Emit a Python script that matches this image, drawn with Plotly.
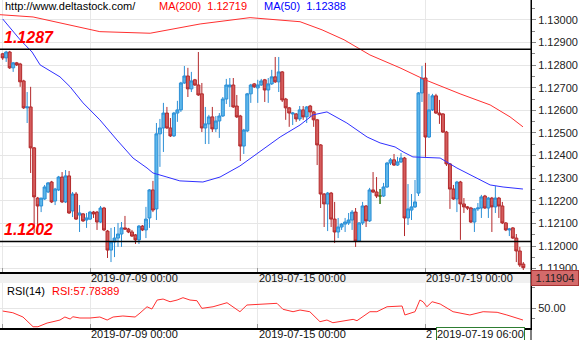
import plotly.graph_objects as go

# ---------------- data ----------------
opens = [1.12850, 1.12832, 1.12858, 1.12788, 1.12810, 1.12805, 1.12730, 1.12611, 1.12615, 1.12434,
         1.12212, 1.12177, 1.12208, 1.12239, 1.12283, 1.12199, 1.12248, 1.12305, 1.12195, 1.12310,
         1.12155, 1.12230, 1.12137, 1.12142, 1.12115, 1.12119, 1.12150, 1.12150, 1.12106, 1.12168,
         1.12066, 1.11982, 1.12018, 1.12035, 1.12053, 1.12080, 1.12075, 1.12062, 1.12049, 1.12027,
         1.12088, 1.12071, 1.12124, 1.12248, 1.12164, 1.12496, 1.12522, 1.12588, 1.12522, 1.12487,
         1.12588, 1.12602, 1.12721, 1.12752, 1.12695, 1.12735, 1.12712, 1.12673, 1.12522, 1.12540,
         1.12571, 1.12518, 1.12553, 1.12575, 1.12650, 1.12704, 1.12712, 1.12619, 1.12575, 1.12442,
         1.12509, 1.12673, 1.12717, 1.12699, 1.12712, 1.12735, 1.12690, 1.12717, 1.12748, 1.12726,
         1.12770, 1.12650, 1.12611, 1.12584, 1.12584, 1.12562, 1.12602, 1.12571, 1.12619, 1.12593,
         1.12558, 1.12447, 1.12230, 1.12186, 1.12234, 1.12119, 1.12062, 1.12084, 1.12097, 1.12102,
         1.12115, 1.12150, 1.12022, 1.12102, 1.12177, 1.12111, 1.12248, 1.12239, 1.12221, 1.12221,
         1.12261, 1.12367, 1.12381, 1.12358, 1.12372, 1.12389, 1.12124, 1.12159, 1.12173, 1.12234,
         1.12677, 1.12743, 1.12482, 1.12602, 1.12664, 1.12588, 1.12584, 1.12504, 1.12363, 1.12252,
         1.12208, 1.12283, 1.12186, 1.12173, 1.12168, 1.12106, 1.12164, 1.12168, 1.12221, 1.12168,
         1.12212, 1.12173, 1.12212, 1.12177, 1.12102, 1.12071, 1.12080, 1.12035, 1.11978, 1.11920]
highs = [1.12854, 1.12863, 1.12863, 1.12814, 1.12814, 1.12810, 1.12735, 1.12681, 1.12704, 1.12438,
         1.12217, 1.12212, 1.12270, 1.12283, 1.12288, 1.12257, 1.12310, 1.12327, 1.12336, 1.12332,
         1.12239, 1.12239, 1.12181, 1.12146, 1.12146, 1.12155, 1.12155, 1.12155, 1.12177, 1.12173,
         1.12071, 1.12080, 1.12084, 1.12102, 1.12106, 1.12133, 1.12080, 1.12071, 1.12053, 1.12093,
         1.12093, 1.12173, 1.12252, 1.12288, 1.12544, 1.12562, 1.12633, 1.12615, 1.12566, 1.12593,
         1.12642, 1.12726, 1.12796, 1.12788, 1.12770, 1.12739, 1.12858, 1.12721, 1.12615, 1.12580,
         1.12615, 1.12575, 1.12588, 1.12659, 1.12739, 1.12743, 1.12743, 1.12668, 1.12580, 1.12518,
         1.12677, 1.12717, 1.12721, 1.12735, 1.12739, 1.12739, 1.12743, 1.12779, 1.12836, 1.12836,
         1.12774, 1.12655, 1.12615, 1.12593, 1.12588, 1.12619, 1.12619, 1.12619, 1.12624, 1.12597,
         1.12562, 1.12451, 1.12234, 1.12239, 1.12239, 1.12195, 1.12124, 1.12102, 1.12124, 1.12146,
         1.12159, 1.12168, 1.12106, 1.12195, 1.12181, 1.12257, 1.12327, 1.12305, 1.12252, 1.12279,
         1.12372, 1.12389, 1.12407, 1.12394, 1.12411, 1.12394, 1.12274, 1.12230, 1.12292, 1.12681,
         1.12796, 1.12810, 1.12673, 1.12673, 1.12673, 1.12646, 1.12588, 1.12509, 1.12367, 1.12270,
         1.12288, 1.12288, 1.12212, 1.12177, 1.12173, 1.12168, 1.12190, 1.12226, 1.12226, 1.12217,
         1.12217, 1.12265, 1.12217, 1.12195, 1.12106, 1.12080, 1.12084, 1.12053, 1.11996, 1.11929]
lows = [1.12823, 1.12814, 1.12783, 1.12770, 1.12796, 1.12704, 1.12606, 1.12544, 1.12323, 1.12057,
        1.12062, 1.12150, 1.12204, 1.12234, 1.12190, 1.12181, 1.12243, 1.12190, 1.12190, 1.12142,
        1.12128, 1.12115, 1.12062, 1.12106, 1.12080, 1.12115, 1.12124, 1.12071, 1.12102, 1.12066,
        1.11947, 1.11929, 1.11951, 1.11996, 1.11996, 1.12071, 1.12057, 1.12040, 1.12009, 1.12009,
        1.12066, 1.12035, 1.12080, 1.12150, 1.12115, 1.12350, 1.12416, 1.12518, 1.12482, 1.12482,
        1.12549, 1.12593, 1.12717, 1.12659, 1.12681, 1.12708, 1.12664, 1.12504, 1.12451, 1.12451,
        1.12504, 1.12504, 1.12478, 1.12571, 1.12628, 1.12615, 1.12611, 1.12566, 1.12376, 1.12407,
        1.12504, 1.12633, 1.12699, 1.12633, 1.12708, 1.12637, 1.12633, 1.12712, 1.12721, 1.12681,
        1.12637, 1.12558, 1.12527, 1.12535, 1.12549, 1.12553, 1.12558, 1.12544, 1.12571, 1.12527,
        1.12358, 1.12168, 1.12084, 1.12066, 1.12084, 1.12013, 1.12035, 1.12071, 1.12062, 1.12093,
        1.12071, 1.11996, 1.12018, 1.12093, 1.12084, 1.12106, 1.12234, 1.12212, 1.12186, 1.12217,
        1.12257, 1.12358, 1.12354, 1.12354, 1.12367, 1.12044, 1.12093, 1.12115, 1.12168, 1.12221,
        1.12637, 1.12394, 1.12478, 1.12597, 1.12584, 1.12540, 1.12500, 1.12354, 1.12164, 1.12204,
        1.12150, 1.12027, 1.12146, 1.12159, 1.12102, 1.12062, 1.12155, 1.12124, 1.12164, 1.12124,
        1.12062, 1.12146, 1.12124, 1.12097, 1.12066, 1.12044, 1.12031, 1.11929, 1.11907, 1.11894]
closes = [1.12832, 1.12858, 1.12788, 1.12810, 1.12801, 1.12726, 1.12611, 1.12615, 1.12434, 1.12217,
          1.12177, 1.12212, 1.12261, 1.12279, 1.12195, 1.12252, 1.12305, 1.12195, 1.12310, 1.12146,
          1.12230, 1.12119, 1.12146, 1.12111, 1.12124, 1.12150, 1.12142, 1.12106, 1.12168, 1.12071,
          1.11982, 1.12018, 1.12035, 1.12053, 1.12080, 1.12075, 1.12062, 1.12044, 1.12027, 1.12088,
          1.12071, 1.12119, 1.12248, 1.12159, 1.12496, 1.12522, 1.12588, 1.12522, 1.12487, 1.12588,
          1.12602, 1.12721, 1.12752, 1.12695, 1.12730, 1.12712, 1.12668, 1.12522, 1.12540, 1.12571,
          1.12518, 1.12553, 1.12575, 1.12650, 1.12712, 1.12712, 1.12615, 1.12571, 1.12442, 1.12513,
          1.12673, 1.12712, 1.12704, 1.12712, 1.12730, 1.12690, 1.12717, 1.12748, 1.12726, 1.12770,
          1.12646, 1.12611, 1.12588, 1.12588, 1.12562, 1.12602, 1.12571, 1.12615, 1.12593, 1.12558,
          1.12447, 1.12230, 1.12186, 1.12234, 1.12119, 1.12062, 1.12084, 1.12097, 1.12106, 1.12115,
          1.12150, 1.12022, 1.12102, 1.12177, 1.12111, 1.12248, 1.12239, 1.12221, 1.12221, 1.12261,
          1.12367, 1.12381, 1.12358, 1.12372, 1.12389, 1.12124, 1.12164, 1.12173, 1.12195, 1.12677,
          1.12743, 1.12482, 1.12602, 1.12664, 1.12588, 1.12580, 1.12504, 1.12363, 1.12252, 1.12208,
          1.12283, 1.12186, 1.12173, 1.12168, 1.12106, 1.12164, 1.12168, 1.12217, 1.12168, 1.12212,
          1.12173, 1.12212, 1.12177, 1.12102, 1.12071, 1.12075, 1.12035, 1.11978, 1.11916, 1.11904]
candle_index = list(range(len(opens)))

ma50_index = [0, 5, 8.4, 10.7, 16.4, 19.3, 23.0, 27.8, 32.7, 37.3, 41.3, 43.0, 47.0, 50.7, 57.3,
              62.2, 67.9, 74.2, 79.4, 85.1, 88.8, 92.8, 98.5, 104.3, 108.0, 112.3, 114.6, 117.4,
              125.2, 130.0, 139.5, 143.2, 148.9]
ma50_value = [1.13004, 1.12912, 1.12858, 1.12801, 1.12748, 1.12704, 1.12633, 1.12558, 1.12469,
              1.12389, 1.12345, 1.12323, 1.12305, 1.12288, 1.12283, 1.12305, 1.12354, 1.12425,
              1.12482, 1.12535, 1.12580, 1.12593, 1.12544, 1.12482, 1.12456, 1.12438, 1.12416,
              1.12394, 1.12389, 1.12345, 1.12270, 1.12261, 1.12252]

ma200_index = [-0.77, 8.7, 27.8, 42.2, 56.5, 70.8, 85.1, 91.4, 97.7, 105.1, 113.7, 120.9, 130.9,
               139.5, 145.2, 148.9]
ma200_value = [1.13023, 1.13013, 1.12948, 1.12941, 1.12982, 1.13010, 1.12992, 1.12956, 1.12912,
               1.12845, 1.12788, 1.12735, 1.12673, 1.12624, 1.12571, 1.12527]

rsi_index = [0, 2.9, 5.8, 8.7, 10.1, 12.7, 14.4, 16.4, 17.8, 19.3, 20.1, 22.1, 25.0, 27.8, 29.9,
             31.6, 34.4, 37.9, 39.3, 41.3, 42.7, 44.2, 45.9, 47.9, 49.9, 51.6, 53.6, 55.6, 57.0,
             60.2, 64.2, 67.9, 69.9, 74.5, 78.5, 80.2, 83.1, 85.1, 87.9, 90.8, 92.8, 94.5, 97.4,
             100.3, 101.4, 105.1, 107.1, 110.0, 114.3, 115.1, 118.0, 119.4, 120.3, 121.4, 122.9,
             125.2, 128.9, 133.7, 137.5, 141.5, 144.3, 148.9]
rsi_value = [46.4, 44.4, 39.3, 27.7, 27.7, 32.1, 33.7, 35.7, 39.3, 36.9, 39.6, 38.1, 38.1, 39.3,
             35.7, 39.3, 40.5, 39.3, 44.0, 51.5, 48.8, 59.5, 60.7, 57.5, 59.5, 62.3, 59.5, 58.7,
             49.6, 51.5, 56.3, 45.6, 53.6, 54.8, 55.6, 48.5, 45.6, 47.6, 45.6, 33.7, 35.7, 32.5,
             34.9, 36.5, 34.9, 45.6, 45.6, 51.5, 52.4, 41.7, 45.6, 59.5, 57.5, 51.5, 57.5, 54.8,
             45.6, 41.7, 45.6, 44.9, 41.7, 35.7]

level_values = [1.1287, 1.1202]
level_labels = ["1.1287", "1.1202"]
date_tick_index = [25, 73, 121]
date_tick_labels = ["2019-07-09 00:00", "2019-07-15 00:00", "2019-07-19 00:00"]
bottom_tick_labels = ["2019-07-09 00:00", "2019-07-15 00:00", "2"]
cursor_index = 124
cursor_label = "2019-07-19 06:00"
last_price = 1.11904
legend_texts = ["http://www.deltastock.com/", "MA(200)  1.12719", "MA(50)  1.12388"]
rsi_texts = ["RSI(14)", "RSI:57.78389"]

# ---------------- figure ----------------
FONT = "Liberation Sans, Arial, sans-serif"
H_PLOT = 328.0
main_bottom = (H_PLOT - 272) / H_PLOT
rsi_top = (H_PLOT - 283) / H_PLOT

fig = go.Figure()
fig.add_trace(go.Candlestick(
    x=candle_index, open=opens, high=highs, low=lows, close=closes,
    increasing=dict(line=dict(color="#2b8fd6", width=1), fillcolor="#5cb6ea"),
    decreasing=dict(line=dict(color="#b3292b", width=1), fillcolor="#d45c5c"),
    whiskerwidth=0, hoverinfo="skip", xaxis="x", yaxis="y"))

# doji candles (open == close) drawn green
dx, dy = [], []
for i in candle_index:
    if opens[i] == closes[i]:
        dx += [i, i, None, i - 0.35, i + 0.35, None]
        dy += [highs[i], lows[i], None, closes[i], closes[i], None]
fig.add_trace(go.Scatter(x=dx, y=dy, mode="lines", line=dict(color="#1f9a1f", width=1.2),
                         hoverinfo="skip", xaxis="x", yaxis="y"))

fig.add_trace(go.Scatter(x=ma200_index, y=ma200_value, mode="lines",
                         line=dict(color="#ff3030", width=1), hoverinfo="skip", xaxis="x", yaxis="y"))
fig.add_trace(go.Scatter(x=ma50_index, y=ma50_value, mode="lines",
                         line=dict(color="#3030ff", width=1), hoverinfo="skip", xaxis="x", yaxis="y"))
fig.add_trace(go.Scatter(x=rsi_index, y=rsi_value, mode="lines",
                         line=dict(color="#ff3030", width=1), hoverinfo="skip", xaxis="x2", yaxis="y2"))

shapes = []
for v in level_values:
    shapes.append(dict(type="line", xref="paper", x0=0, x1=1, yref="y", y0=v, y1=v,
                       line=dict(color="black", width=1.5), layer="above"))
# gray band between price and RSI panels
shapes.append(dict(type="rect", xref="paper", x0=0, x1=1, yref="paper", y0=rsi_top, y1=main_bottom,
                   fillcolor="#f0f0f0", line=dict(width=0), layer="below"))
# right border line across everything
shapes.append(dict(type="line", xref="paper", x0=1, x1=1, yref="paper", y0=-12 / H_PLOT, y1=1,
                   line=dict(color="black", width=1), layer="above"))

annotations = []
for v, t in zip(level_values, level_labels):
    annotations.append(dict(xref="paper", x=0.004, yref="y", y=v, xanchor="left", yanchor="bottom",
                            yshift=1, showarrow=False, text="<b><i>" + t + "</i></b>",
                            font=dict(family=FONT, size=16, color="#ff0000")))
legend_x = [3, 157, 262]
legend_colors = ["#000000", "#ff0000", "#0000ff"]
for t, px, c in zip(legend_texts, legend_x, legend_colors):
    annotations.append(dict(xref="paper", x=px / 531.0, yref="paper", y=1 - 6.5 / H_PLOT,
                            xanchor="left", yanchor="middle", showarrow=False, text=t,
                            font=dict(family=FONT, size=11, color=c)))
for t, px, c in zip(rsi_texts, [5, 50], ["#000000", "#ff0000"]):
    annotations.append(dict(xref="paper", x=px / 531.0, yref="paper", y=(H_PLOT - 291) / H_PLOT,
                            xanchor="left", yanchor="middle", showarrow=False, text=t,
                            font=dict(family=FONT, size=11, color=c)))
for idx, t in zip(date_tick_index, date_tick_labels):
    annotations.append(dict(xref="x", x=idx, yref="paper", y=(H_PLOT - 277.5) / H_PLOT,
                            xanchor="left", yanchor="middle", showarrow=False, text=t, xshift=-1,
                            font=dict(family=FONT, size=11, color="#111111")))
for idx, t in zip(date_tick_index, bottom_tick_labels):
    annotations.append(dict(xref="x", x=idx, yref="paper", y=(H_PLOT - 334) / H_PLOT,
                            xanchor="left", yanchor="middle", showarrow=False, text=t, xshift=-1,
                            font=dict(family=FONT, size=11, color="#111111")))
annotations.append(dict(xref="x", x=cursor_index, yref="paper", y=(H_PLOT - 334) / H_PLOT,
                        xanchor="left", yanchor="middle", showarrow=False, text=cursor_label,
                        bgcolor="#ffffff", bordercolor="#2e7d32", borderwidth=1, borderpad=0,
                        font=dict(family=FONT, size=11, color="#111111")))
annotations.append(dict(xref="paper", x=1, yref="y", y=last_price, xanchor="left", yanchor="top",
                        yshift=-2, showarrow=False, text=f"{last_price:.5f}", width=44,
                        bgcolor="#d46a6a", bordercolor="#a83232", borderwidth=1, borderpad=1,
                        font=dict(family=FONT, size=11, color="#222222")))

xcommon = dict(range=[-0.77, 151.2], tickvals=[0] + date_tick_index, showticklabels=False,
               showgrid=True, gridcolor="#e8e8e8", gridwidth=1, ticks="inside", ticklen=4,
               tickcolor="#999999", showline=True, linecolor="black", linewidth=1.5,
               zeroline=False, fixedrange=True)

fig.update_layout(
    width=585, height=340, margin=dict(l=0, r=54, t=0, b=12),
    paper_bgcolor="white", plot_bgcolor="white", showlegend=False,
    boxgap=0.15, boxgroupgap=0,
    font=dict(family=FONT, size=11, color="#222222"),
    xaxis=dict(domain=[0, 1], anchor="y", rangeslider=dict(visible=False), **xcommon),
    xaxis2=dict(domain=[0, 1], anchor="y2", matches="x", **xcommon),
    yaxis=dict(domain=[main_bottom, 1], anchor="x", side="right", range=[1.11885, 1.13088],
               tick0=1.13, dtick=0.001, tickformat=".5f", ticks="outside", ticklen=4,
               tickcolor="#888888", showgrid=True, gridcolor="#e6e6e6", zeroline=False,
               showline=True, linecolor="black", linewidth=1,
               minor=dict(dtick=0.0005, tick0=1.13, ticks="outside", ticklen=3,
                          tickcolor="#888888", showgrid=False),
               tickfont=dict(family=FONT, size=11, color="#222222")),
    yaxis2=dict(domain=[0, rsi_top], anchor="x2", side="right", range=[26.2, 79.8],
                tickvals=[50], tickformat=".2f", ticks="outside", ticklen=4,
                tickcolor="#888888", showgrid=True, gridcolor="#e6e6e6", zeroline=False,
                showline=True, linecolor="black", linewidth=1,
                minor=dict(tickvals=[37.5, 75], ticks="outside", ticklen=3,
                           tickcolor="#888888", showgrid=False),
                tickfont=dict(family=FONT, size=11, color="#222222")),
    shapes=shapes, annotations=annotations,
)

fig.write_html("out.html")
